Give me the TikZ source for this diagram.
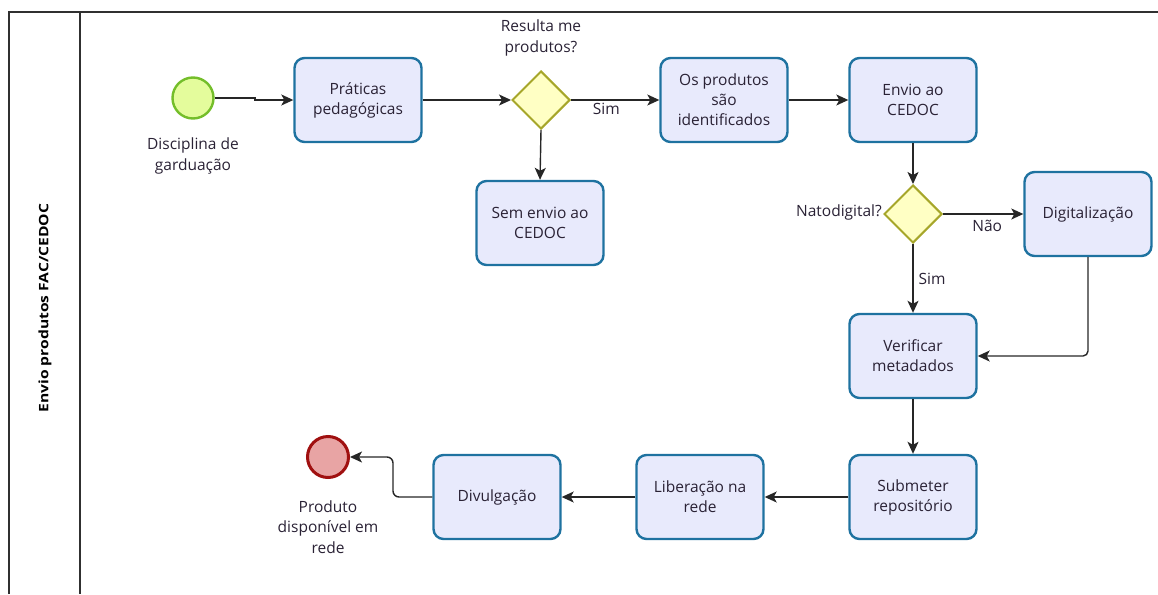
\documentclass[tikz,border=0pt]{standalone}
\usepackage{fontspec}
\setmainfont{Open Sans}
\usetikzlibrary{shapes.geometric,arrows.meta}
\definecolor{boxfill}{HTML}{E8EAFC}
\definecolor{boxline}{HTML}{1E72A0}
\definecolor{gwfill}{HTML}{FFFFC4}
\definecolor{gwline}{HTML}{A6A62A}
\definecolor{stfill}{HTML}{E4FC9C}
\definecolor{stline}{HTML}{74BE2A}
\definecolor{enfill}{HTML}{E8A4A4}
\definecolor{enline}{HTML}{A01010}
\definecolor{txt}{HTML}{2A2235}
\definecolor{pool}{HTML}{303030}
\tikzset{
  task/.style={draw=boxline, fill=boxfill, line width=2.4pt, rounded corners=10pt,
    minimum width=127pt, minimum height=84pt, align=center, text=txt,
    font=\fontsize{15.5}{20}\selectfont, inner sep=2pt},
  gw/.style={draw=gwline, fill=gwfill, line width=2pt, diamond, minimum width=58pt,
    minimum height=58pt, inner sep=0pt},
  lbl/.style={align=center, text=txt, font=\fontsize{15.5}{20.5}\selectfont, inner sep=0pt},
  flow/.style={draw=black!85, line width=1.4pt, -{Stealth[length=12pt,width=11pt,inset=3pt]}},
}
\begin{document}
\begin{tikzpicture}[x=1pt,y=-1pt]
\useasboundingbox (0,0) rectangle (1158,594);
% pool
\draw[pool, line width=1.5pt] (9,594) -- (9,12) -- (1160,12);
\draw[pool, line width=1.5pt] (80,12) -- (80,594);
\node[rotate=90, font=\bfseries\fontsize{13}{15}\selectfont, text=black] (lane) at (45,308) {\scalebox{1.2}[1]{Envio produtos FAC/CEDOC}};
% events
\node[circle, draw=stline, fill=stfill, line width=2.4pt, minimum size=41pt, inner sep=0pt] (start) at (193,98) {};
\node[lbl] (startl) at (193,156) {Disciplina de\\garduação};
\node[circle, draw=enline, fill=enfill, line width=3pt, minimum size=41pt, inner sep=0pt] (end) at (328,457) {};
\node[lbl] (endl) at (328,527) {Produto\\disponível em\\rede};
% tasks
\node[task] (prat) at (358,100) {Práticas\\pedagógicas};
\node[task] (ident) at (724,100) {Os produtos\\são\\identificados};
\node[task] (envio) at (913,100) {Envio ao\\CEDOC};
\node[task] (sem) at (540,223) {Sem envio ao\\CEDOC};
\node[task] (digit) at (1088,214) {Digitalização};
\node[task] (verif) at (913,356) {Verificar\\metadados};
\node[task] (subm) at (913,497) {Submeter\\repositório};
\node[task] (liber) at (700,497) {Liberação na\\rede};
\node[task] (divul) at (497,497) {Divulgação};
% gateways
\node[gw] (gw1) at (541,100) {};
\node[lbl] (gw1l) at (541,38) {Resulta me\\produtos?};
\node[gw] (gw2) at (913,214) {};
\node[lbl, anchor=east] (gw2l) at (882,212) {Natodigital?};
% flows
\draw[flow] (start.east) -- (255,98) -- (255,100) -- (prat.west);
\draw[flow] (prat.east) -- (gw1.west);
\draw[flow] (gw1.east) -- node[lbl, below, pos=0.4, yshift=-2pt] (sim1) {Sim} (ident.west);
\draw[flow] (gw1.south) -- (sem.north);
\draw[flow] (ident.east) -- (envio.west);
\draw[flow] (envio.south) -- (gw2.north);
\draw[flow] (gw2.east) -- node[lbl, below, pos=0.55, yshift=-5pt] (nao) {Não} (digit.west);
\draw[flow] (gw2.south) -- node[lbl, right, pos=0.5, xshift=5pt] (sim2) {Sim} (verif.north);
\draw[flow, rounded corners=5pt] (digit.south) |- (verif.east);
\draw[flow] (verif.south) -- (subm.north);
\draw[flow] (subm.west) -- (liber.east);
\draw[flow] (liber.west) -- (divul.east);
\draw[flow, rounded corners=6pt] (divul.west) -- (393,497) |- (end.east);
\end{tikzpicture}
\end{document}
